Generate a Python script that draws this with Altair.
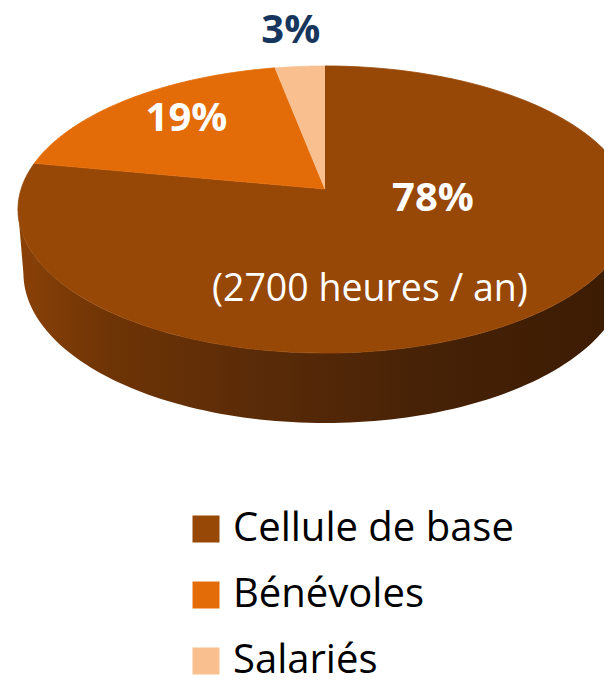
import altair as alt
import pandas as pd

# ---- data ----
categories = ["Cellule de base", "Bénévoles", "Salariés"]
values = [78, 19, 3]
pct_labels = ["78%", "19%", "3%"]
sub_label = "(2700 heures / an)"

colors = ["#974706", "#E36C09", "#F9BF8F"]

df = pd.DataFrame({
    "category": categories,
    "value": values,
    "idx": list(range(len(categories))),
    "label": pct_labels,
    "sub": [sub_label, "", ""],
})

# ---- 3D perspective pie geometry (style constants) ----
F = 1886.0      # focal length
D = 6.206       # camera distance (pie radius = 1)
SA = 0.4627     # sin(elevation)
CA = 0.8865     # cos(elevation)
H = 0.238       # pie thickness
N = 120         # points per slice arc
M = 120         # points per side edge
RL = 0.7        # label anchor radius

depth = f"({D} + datum.Z*{CA} - datum.Y*{SA})"
PX = f"{F}*datum.X/{depth}"
PY = f"{F}*(datum.Y*{CA} + datum.Z*{SA})/{depth}"

xs = alt.Scale(domain=[-317, 279], nice=False, zero=False)
ys = alt.Scale(domain=[-486, 181], nice=False, zero=False)

base = (
    alt.Chart(df)
    .transform_joinaggregate(total="sum(value)")
    .transform_window(cum="sum(value)", sort=[alt.SortField("idx")], frame=[None, 0])
    .transform_calculate(
        t0="2*PI*(datum.cum - datum.value)/datum.total",
        t1="2*PI*datum.cum/datum.total",
        tm="PI*(2*datum.cum - datum.value)/datum.total",
    )
)

# side band (front of the pie)
side = (
    base.transform_filter("datum.idx == 0")
    .transform_calculate(k=f"sequence(0, {2 * M + 2})")
    .transform_flatten(["k"])
    .transform_calculate(ta=f"acos(-{CA}/{D})")
    .transform_calculate(
        th=f"datum.k <= {M} ? datum.ta + (2*PI - 2*datum.ta)*datum.k/{M} : "
           f"2*PI - datum.ta - (2*PI - 2*datum.ta)*(datum.k - {M} - 1)/{M}",
        Y=f"datum.k <= {M} ? 0 : -{H}",
    )
    .transform_calculate(X="sin(datum.th)", Z="cos(datum.th)")
    .transform_calculate(px=PX, py=PY)
    .mark_line(
        clip=True,
        strokeOpacity=0,
        fill=alt.Gradient(
            gradient="linear",
            x1=0, x2=1, y1=0, y2=0,
            stops=[
                alt.GradientStop(color="#8A4107", offset=0),
                alt.GradientStop(color="#6E3405", offset=0.15),
                alt.GradientStop(color="#5A2B08", offset=0.39),
                alt.GradientStop(color="#452106", offset=0.69),
                alt.GradientStop(color="#3B1B03", offset=1),
            ],
        ),
    )
    .encode(
        x=alt.X("px:Q", scale=xs, axis=None),
        y=alt.Y("py:Q", scale=ys, axis=None),
        order=alt.Order("k:Q"),
    )
)

# top face wedges
wedges = (
    base.transform_calculate(k=f"sequence(0, {N + 2})")
    .transform_flatten(["k"])
    .transform_calculate(
        r="datum.k == 0 ? 0 : 1",
        th=f"datum.t0 + (datum.t1 - datum.t0)*max(datum.k - 1, 0)/{N}",
        Y="0",
    )
    .transform_calculate(X="datum.r*sin(datum.th)", Z="datum.r*cos(datum.th)")
    .transform_calculate(px=PX, py=PY)
    .mark_line(clip=True, strokeWidth=0.8)
    .encode(
        x=alt.X("px:Q", scale=xs, axis=None),
        y=alt.Y("py:Q", scale=ys, axis=None),
        order=alt.Order("k:Q"),
        fill=alt.Fill(
            "category:N",
            scale=alt.Scale(domain=categories, range=colors),
            sort=categories,
            legend=alt.Legend(
                title=None,
                orient="none",
                legendX=178,
                legendY=501,
                symbolType="square",
                symbolSize=729,
                symbolStrokeWidth=0,
                labelFont="Open Sans",
                labelFontSize=40,
                labelColor="#000000",
                labelOffset=7,
                rowPadding=26,
                padding=0,
                labelLimit=0,
            ),
        ),
        stroke=alt.Stroke(
            "category:N",
            scale=alt.Scale(domain=categories, range=colors),
            legend=None,
        ),
    )
)

# labels
lab = (
    base.transform_calculate(X=f"{RL}*sin(datum.tm)", Z=f"{RL}*cos(datum.tm)", Y="0")
    .transform_calculate(px=PX, py=PY)
)
enc = dict(
    x=alt.X("px:Q", scale=xs, axis=None),
    y=alt.Y("py:Q", scale=ys, axis=None),
)
text_style = dict(font="Open Sans", align="center", baseline="alphabetic")

t78 = lab.transform_filter("datum.idx == 0").mark_text(
    dx=-39, dy=-60, fontSize=40, fontWeight="bold", color="#FFFFFF", **text_style
).encode(text="label:N", **enc)
t2700 = lab.transform_filter("datum.idx == 0").mark_text(
    dx=-102, dy=30, fontSize=37.5, color="#FFFFFF", **text_style
).encode(text="sub:N", **enc)
t19 = lab.transform_filter("datum.idx == 1").mark_text(
    dx=2, dy=7, fontSize=40, fontWeight="bold", color="#FFFFFF", **text_style
).encode(text="label:N", **enc)
t3 = lab.transform_filter("datum.idx == 2").mark_text(
    dx=-16, dy=-57, fontSize=40, fontWeight="bold", color="#17365D", **text_style
).encode(text="label:N", **enc)

chart = (
    alt.layer(side, wedges, t78, t2700, t19, t3)
    .properties(
        width=596,
        height=667,
        padding=0,
        autosize=alt.AutoSizeParams(type="none"),
    )
    .configure_view(strokeWidth=0)
)

chart.save("out.html", embed_options={"renderer": "svg", "actions": False})
